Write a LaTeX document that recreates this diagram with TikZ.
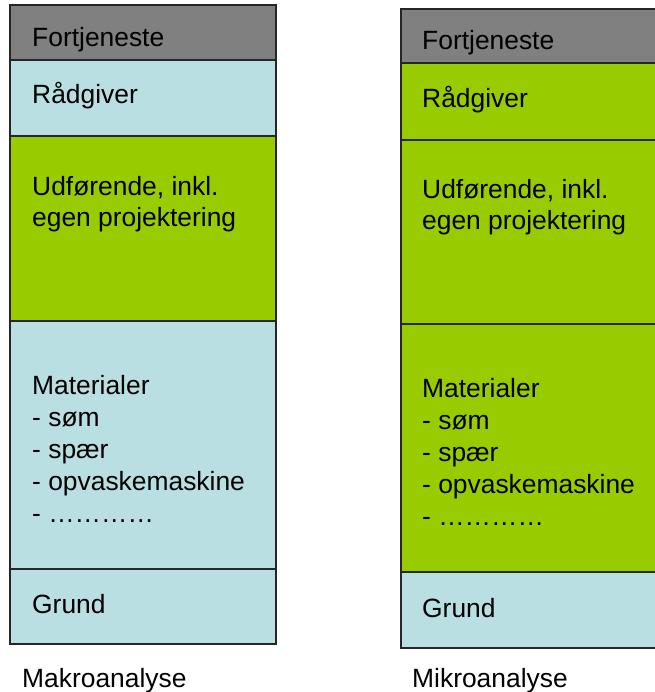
\documentclass[tikz,border=0pt]{standalone}
\usepackage{fontspec}
\setmainfont{Liberation Sans}
\definecolor{cgray}{HTML}{808080}
\definecolor{cblue}{HTML}{B9DFE3}
\definecolor{cgreen}{HTML}{99CC00}
\definecolor{cline}{HTML}{262626}
\begin{document}
\begin{tikzpicture}[x=1pt,y=-1pt,
  cell/.style={draw=cline, line width=1.6pt, rectangle, inner sep=0pt, outer sep=0pt, anchor=north west},
  txt/.style={font=\fontsize{26.4}{32}\selectfont, inner sep=0pt, anchor=base west, text=black}]
\useasboundingbox (0,0) rectangle (654,692);
% left column
\node[cell, fill=cgray,  minimum width=266pt, minimum height=55pt]  (L1) at (10,5) {};
\node[cell, fill=cblue,  minimum width=266pt, minimum height=76pt]  (L2) at (10,60) {};
\node[cell, fill=cgreen, minimum width=266pt, minimum height=185pt] (L3) at (10,136) {};
\node[cell, fill=cblue,  minimum width=266pt, minimum height=248pt] (L4) at (10,321) {};
\node[cell, fill=cblue,  minimum width=266pt, minimum height=75pt]  (L5) at (10,569) {};
% right column
\node[cell, fill=cgray,  minimum width=256pt, minimum height=54pt]  (R1) at (401,9) {};
\node[cell, fill=cgreen, minimum width=256pt, minimum height=77pt]  (R2) at (401,63) {};
\node[cell, fill=cgreen, minimum width=256pt, minimum height=184pt] (R3) at (401,140) {};
\node[cell, fill=cgreen, minimum width=256pt, minimum height=248pt] (R4) at (401,324) {};
\node[cell, fill=cblue,  minimum width=256pt, minimum height=76pt]  (R5) at (401,572) {};
% left texts
\node[txt] (tL1) at (32,47) {Fortjeneste};
\node[txt] (tL2) at (32,104) {Rådgiver};
\node[txt] (tL3a) at (32,196) {Udførende, inkl.};
\node[txt] (tL3b) at (32,227) {egen projektering};
\node[txt] (tL4a) at (32,394) {Materialer};
\node[txt] (tL4b) at (32,426) {- søm};
\node[txt] (tL4c) at (32,458) {- spær};
\node[txt] (tL4d) at (32,490) {- opvaskemaskine};
\node[txt] (tL4e) at (32,522) {- …………};
\node[txt] (tL5) at (32,613) {Grund};
\node[txt] (tL6) at (22,687) {Makroanalyse};
% right texts
\node[txt] (tR1) at (422,50) {Fortjeneste};
\node[txt] (tR2) at (422,108) {Rådgiver};
\node[txt] (tR3a) at (422,199) {Udførende, inkl.};
\node[txt] (tR3b) at (422,230) {egen projektering};
\node[txt] (tR4a) at (422,397) {Materialer};
\node[txt] (tR4b) at (422,429) {- søm};
\node[txt] (tR4c) at (422,461) {- spær};
\node[txt] (tR4d) at (422,493) {- opvaskemaskine};
\node[txt] (tR4e) at (422,525) {- …………};
\node[txt] (tR5) at (422,617) {Grund};
\node[txt] (tR6) at (412,687) {Mikroanalyse};
\end{tikzpicture}
\end{document}
